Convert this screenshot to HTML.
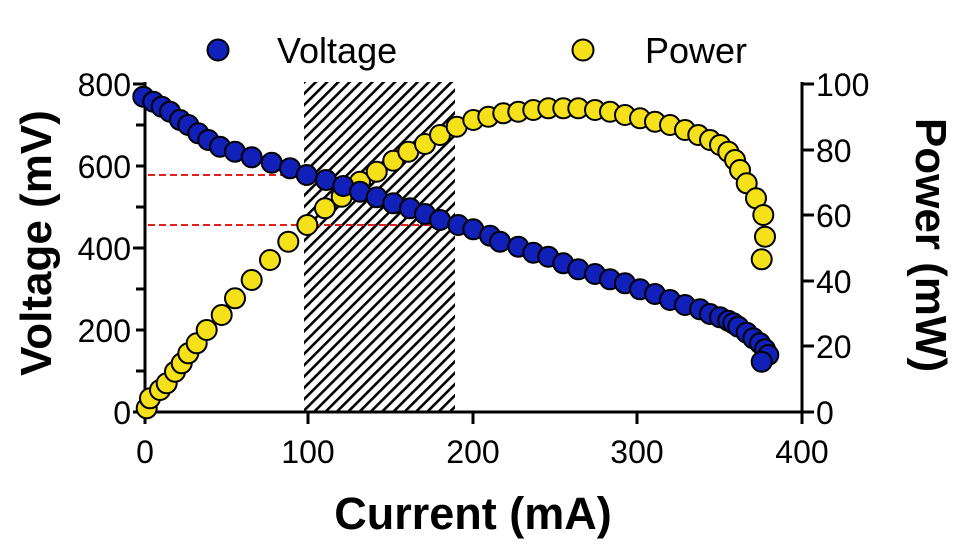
<!DOCTYPE html>
<html><head><meta charset="utf-8"><style>
html,body{margin:0;padding:0;background:#fff;}
svg{display:block;font-family:"Liberation Sans",Arial,sans-serif;}
</style></head><body>
<svg width="960" height="548" viewBox="0 0 960 548">
<defs>
<pattern id="h" patternUnits="userSpaceOnUse" width="8" height="8" patternTransform="rotate(45)">
<rect width="8" height="8" fill="#fff"/><rect x="0" y="0" width="2.6" height="8" fill="#000"/>
</pattern>
</defs>
<rect x="304" y="82" width="151" height="330" fill="url(#h)"/>
<g stroke="#e0201c" stroke-width="2" stroke-dasharray="7,4">
<line x1="148" y1="175" x2="308" y2="175"/>
<line x1="148" y1="225" x2="455" y2="225"/>
</g>
<g stroke="#000" stroke-width="3" fill="none">
<line x1="145" y1="82" x2="145" y2="413"/>
<line x1="802" y1="82" x2="802" y2="413"/>
<line x1="143" y1="412" x2="804" y2="412"/>
<path d="M133 84H145M136 166H145M133 248H145M136 330H145M133 412H145M136 125H145M136 207H145M136 289H145M136 371H145"/>
<path d="M802 84H814M802 150H814M802 215H814M802 281H814M802 346H814M802 412H814"/>
<path d="M145 412V424M308 412V424M473 412V424M637 412V424M802 412V424"/>
</g>
<g font-size="32" fill="#000" text-anchor="end">
<text x="131" y="96">800</text><text x="131" y="178">600</text><text x="131" y="260">400</text><text x="131" y="342">200</text><text x="131" y="424">0</text>
</g>
<g font-size="32" fill="#000" text-anchor="start">
<text x="816" y="96">100</text><text x="816" y="162">80</text><text x="816" y="227">60</text><text x="816" y="293">40</text><text x="816" y="358">20</text><text x="816" y="424">0</text>
</g>
<g font-size="32" fill="#000" text-anchor="middle">
<text x="145" y="463">0</text><text x="308" y="463">100</text><text x="473" y="463">200</text><text x="637" y="463">300</text><text x="802" y="463">400</text>
</g>
<text x="473" y="529" font-size="45" font-weight="bold" text-anchor="middle">Current (mA)</text>
<text transform="translate(51,243) rotate(-90)" font-size="44" font-weight="bold" text-anchor="middle">Voltage (mV)</text>
<text transform="translate(916,245) rotate(90)" font-size="44" font-weight="bold" text-anchor="middle">Power (mW)</text>
<circle cx="218" cy="50" r="10.5" fill="#1020b8" stroke="#000" stroke-width="2"/>
<text x="277" y="63" font-size="36">Voltage</text>
<circle cx="583" cy="50" r="10.5" fill="#f5e11a" stroke="#000" stroke-width="2"/>
<text x="645" y="63" font-size="36">Power</text>
<g id="p" fill="#f5e11a" stroke="#000" stroke-width="2"></g>
<g id="v" fill="#1020b8" stroke="#000" stroke-width="2"></g>
<script>
var ns="http://www.w3.org/2000/svg";
function add(g,pts,ox){pts.forEach(function(q){var c=document.createElementNS(ns,"circle");c.setAttribute("cx",(ox+q[0]/3).toFixed(1));c.setAttribute("cy",(70+q[1]/3).toFixed(1));c.setAttribute("r","10");g.appendChild(c);});}
var P1=[[140,1015],[150,985],[180,960],[200,940],[225,905],[245,880],[265,850],[290,820],[320,780],[365,735],[405,685],[455,630],[510,570],[565,515],[622,465],[675,415],[725,380],[780,335],[830,305],[880,272],[925,245],[975,222],[1020,195],[1070,170],[1120,150],[1165,140]];
var P2=[[10,130],[55,125],[100,120],[145,115],[190,115],[235,115],[285,120],[330,125],[375,135],[420,145],[465,155],[510,165],[555,180],[595,195],[630,210],[660,225],[685,245],[705,270],[720,300],[740,340],[768,385],[790,435],[795,500],[785,568]];
var V1=[[130,80],[160,95],[185,110],[210,125],[240,150],[265,165],[295,190],[325,210],[360,230],[405,245],[455,262],[515,278],[570,295],[620,315],[678,330],[730,348],[780,365],[830,382],[880,400],[930,415],[975,432],[1020,450],[1075,465],[1120,478],[1170,497]];
var V2=[[0,515],[55,530],[100,548],[145,560],[190,580],[235,598],[285,612],[330,628],[375,640],[420,658],[465,672],[510,690],[555,705],[600,718],[630,732],[660,742],[685,752],[700,760],[715,770],[740,788],[760,805],[780,820],[795,838],[805,855],[785,875]];
var p=document.getElementById("p"),v=document.getElementById("v");
add(p,P1,100);add(p,P2,500);add(v,V1,100);add(v,V2,500);
</script>
</svg>
</body></html>
